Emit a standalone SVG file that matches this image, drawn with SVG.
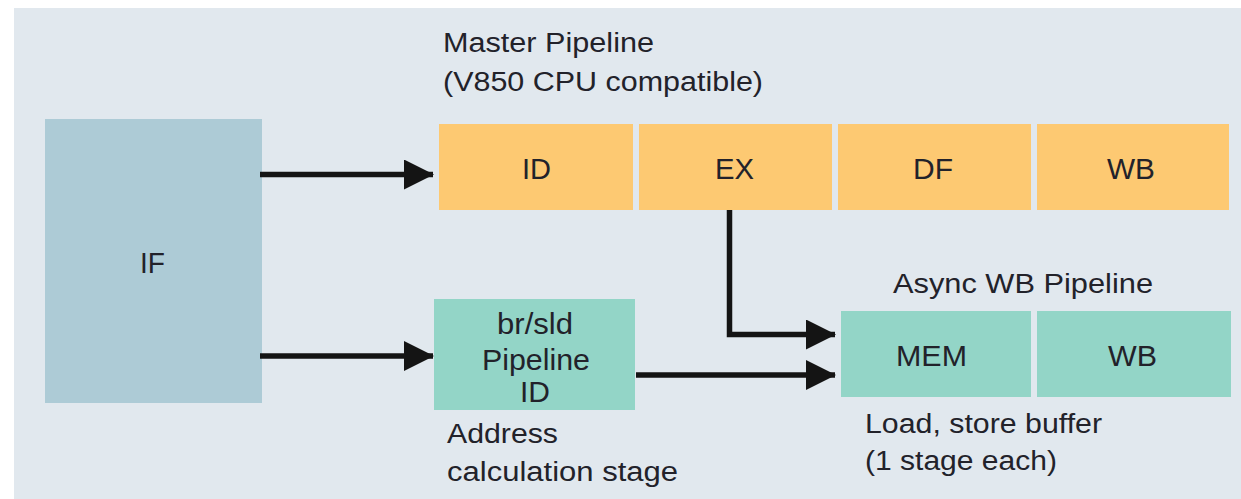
<svg xmlns="http://www.w3.org/2000/svg" width="1241" height="499" viewBox="0 0 1241 499">
  <style>
    text { font-family: "Liberation Sans", Arial, sans-serif; fill: #22222a; }
    .cap { font-size: 27px; }
    .lbl { font-size: 29px; text-anchor: middle; }
    .conn { stroke: #141414; stroke-width: 5.5; fill: none; marker-end: url(#ah); }
    .orange { fill: #fdc972; }
    .teal { fill: #93d5c7; }
  </style>
  <defs>
    <marker id="ah" markerUnits="userSpaceOnUse" markerWidth="30" markerHeight="30" refX="29" refY="15" orient="auto">
      <path d="M0,0 L30,15 L0,30 Z" fill="#141414"/>
    </marker>
  </defs>
  <rect x="0" y="0" width="1241" height="499" fill="#ffffff"/>
  <rect id="panel" x="14" y="8" width="1227" height="491" fill="#e1e8ee"/>

  <g id="captions">
    <text class="cap" x="443" y="52" textLength="211" lengthAdjust="spacingAndGlyphs">Master Pipeline</text>
    <text class="cap" x="443" y="91" textLength="320" lengthAdjust="spacingAndGlyphs">(V850 CPU compatible)</text>
    <text class="cap" x="893" y="293" textLength="260" lengthAdjust="spacingAndGlyphs">Async WB Pipeline</text>
    <text class="cap" x="447" y="443" textLength="111" lengthAdjust="spacingAndGlyphs">Address</text>
    <text class="cap" x="447" y="481" textLength="231" lengthAdjust="spacingAndGlyphs">calculation stage</text>
    <text class="cap" x="865" y="433" textLength="237" lengthAdjust="spacingAndGlyphs">Load, store buffer</text>
    <text class="cap" x="865" y="470" textLength="192" lengthAdjust="spacingAndGlyphs">(1 stage each)</text>
  </g>

  <g id="node-IF">
    <rect x="45" y="119" width="217" height="284" fill="#adcbd6"/>
    <text class="lbl" x="152.5" y="273" textLength="25" lengthAdjust="spacingAndGlyphs">IF</text>
  </g>

  <g id="node-ID">
    <rect class="orange" x="439" y="124" width="194" height="86"/>
    <text class="lbl" x="536.5" y="179" textLength="29" lengthAdjust="spacingAndGlyphs">ID</text>
  </g>
  <g id="node-EX">
    <rect class="orange" x="639" y="124" width="193" height="86"/>
    <text class="lbl" x="734.5" y="179" textLength="39" lengthAdjust="spacingAndGlyphs">EX</text>
  </g>
  <g id="node-DF">
    <rect class="orange" x="838" y="124" width="193" height="86"/>
    <text class="lbl" x="933" y="179" textLength="40" lengthAdjust="spacingAndGlyphs">DF</text>
  </g>
  <g id="node-WB-master">
    <rect class="orange" x="1037" y="124" width="192" height="86"/>
    <text class="lbl" x="1131" y="179" textLength="48" lengthAdjust="spacingAndGlyphs">WB</text>
  </g>

  <g id="node-brsld">
    <rect class="teal" x="434" y="299" width="201" height="111"/>
    <text class="lbl" x="535" y="334" textLength="76" lengthAdjust="spacingAndGlyphs">br/sld</text>
    <text class="lbl" x="536" y="370" textLength="108" lengthAdjust="spacingAndGlyphs">Pipeline</text>
    <text class="lbl" x="535" y="402" textLength="30" lengthAdjust="spacingAndGlyphs">ID</text>
  </g>

  <g id="node-MEM">
    <rect class="teal" x="841" y="311" width="190" height="86"/>
    <text class="lbl" x="931.5" y="366" textLength="71" lengthAdjust="spacingAndGlyphs">MEM</text>
  </g>
  <g id="node-WB-async">
    <rect class="teal" x="1037" y="311" width="194" height="86"/>
    <text class="lbl" x="1132.5" y="366" textLength="49" lengthAdjust="spacingAndGlyphs">WB</text>
  </g>

  <g id="connectors">
    <path class="conn" d="M260,174.5 L433,174.5"/>
    <path class="conn" d="M260,356 L433,356"/>
    <path class="conn" d="M729.5,210 L729.5,334.5 L835,334.5"/>
    <path class="conn" d="M636,375 L835,375"/>
  </g>
</svg>
